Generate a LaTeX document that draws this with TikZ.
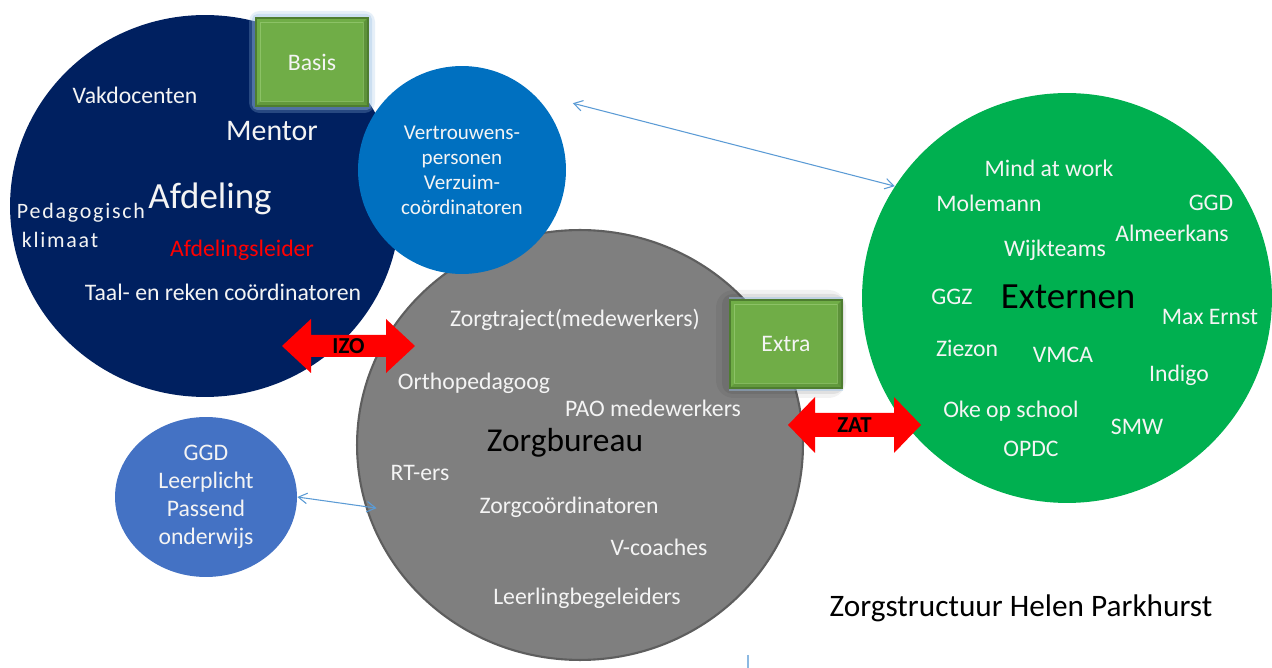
\documentclass[tikz,border=0pt]{standalone}
\usepackage{fontspec}
\setmainfont{Carlito}
\usetikzlibrary{shapes.geometric,arrows.meta,calc}
\definecolor{navy}{HTML}{002060}
\definecolor{vblue}{HTML}{0070C0}
\definecolor{zgray}{HTML}{7F7F7F}
\definecolor{zedge}{HTML}{5E5E5E}
\definecolor{egreen}{HTML}{00B050}
\definecolor{sblue}{HTML}{4472C4}
\definecolor{boxgreen}{HTML}{70AD47}
\definecolor{boxdark}{HTML}{4E7D30}
\definecolor{boxlight}{HTML}{8CC266}
\definecolor{glowblue}{HTML}{9DC3E6}
\definecolor{arrowred}{HTML}{FF0000}
\definecolor{connblue}{HTML}{5B9BD5}
\definecolor{offwhite}{HTML}{F4F4F4}
\begin{document}
\begin{tikzpicture}[x=0.02cm,y=-0.02cm,
  bubble/.style={inner sep=0pt,draw=none},
  wt/.style={text=offwhite,font=\fontsize{13.5}{16}\selectfont,inner sep=0pt},
  vt/.style={text=offwhite,font=\fontsize{12}{14.2}\selectfont,align=center,inner sep=0pt},
  bigblack/.style={text=black,font=\fontsize{21}{25}\selectfont,inner sep=0pt},
  greenbox/.style={fill=boxgreen,draw=boxdark,line width=0.8pt,minimum width=2.24cm,minimum height=1.76cm,inner sep=0pt,text=offwhite,font=\fontsize{13.5}{16}\selectfont},
  arrowlabel/.style={text=black,font=\bfseries\fontsize{13}{16}\selectfont,inner sep=0pt},
  conn/.style={draw=connblue,line width=0.6pt,{Straight Barb[length=5pt,width=6pt]}-{Straight Barb[length=5pt,width=6pt]}}
]
\useasboundingbox (0,0) rectangle (1272,668);
\fill[white] (0,0) rectangle (1272,668);

% big circles
\node[bubble,ellipse,fill=navy,minimum width=7.8cm,minimum height=7.64cm] (afd) at (205,206) {};

% Basis box glow and box
\fill[glowblue,opacity=0.25,rounded corners=6] (249,11) rectangle (375,113);
\fill[glowblue,opacity=0.35,rounded corners=3] (252,14) rectangle (372,110);
\node[greenbox] (basis) at (312,62) {};
\draw[boxlight,line width=0.6pt] ($(basis.north west)+(5,5)$) rectangle ($(basis.south east)+(-5,-5)$);
\fill[boxdark,opacity=0.55] (basis.north east) -- (basis.south east) -- ($(basis.south east)+(-5,-5)$) -- ($(basis.north east)+(-5,5)$) -- cycle;
\fill[boxdark,opacity=0.4] (basis.south west) -- (basis.south east) -- ($(basis.south east)+(-5,-5)$) -- ($(basis.south west)+(5,-5)$) -- cycle;
\node[text=offwhite,font=\fontsize{13.5}{16}\selectfont,inner sep=0pt] (basist) at (basis) {Basis};

\node[bubble,ellipse,fill=zgray,draw=zedge,line width=1.2pt,minimum width=8.92cm,minimum height=8.6cm] (zorg) at (580,445) {};
\node[bubble,circle,fill=vblue,minimum size=4.16cm,vt] (vert) at (462,170) {Vertrouwens-\\personen\\Verzuim-\\coördinatoren};
\node[bubble,ellipse,fill=sblue,minimum width=3.64cm,minimum height=3.2cm,text=offwhite,font=\fontsize{13.5}{16}\selectfont,align=center] (ggd) at (206,497) {GGD\\Leerplicht\\Passend\\onderwijs};
\node[bubble,circle,fill=egreen,minimum size=8.2cm] (ext) at (1067,298) {};

% Extra box with soft shadow
\fill[black,opacity=0.05,rounded corners=10] (716,290) rectangle (846,398);
\fill[black,opacity=0.07,rounded corners=6] (722,294) rectangle (844,394);
\fill[glowblue,opacity=0.45] (729,297) rectangle (843,391);
\node[greenbox] (extra) at (786,344) {};
\draw[boxlight,line width=0.6pt] ($(extra.north west)+(5,5)$) rectangle ($(extra.south east)+(-5,-5)$);
\fill[boxdark,opacity=0.55] (extra.north east) -- (extra.south east) -- ($(extra.south east)+(-5,-5)$) -- ($(extra.north east)+(-5,5)$) -- cycle;
\fill[boxdark,opacity=0.4] (extra.south west) -- (extra.south east) -- ($(extra.south east)+(-5,-5)$) -- ($(extra.south west)+(5,-5)$) -- cycle;
\node[text=offwhite,font=\fontsize{13.5}{16}\selectfont,inner sep=0pt] (extrat) at (extra) {Extra};

% red double arrows
\fill[arrowred] (282,346) -- (311,319) -- (311,335) -- (386,335) -- (386,319) -- (415,346) -- (386,373) -- (386,357) -- (311,357) -- (311,373) -- cycle;
\node[arrowlabel] (izo) at (348.5,346) {IZO};
\fill[arrowred] (788,425) -- (815,397) -- (815,413) -- (894,413) -- (894,397) -- (921,425) -- (894,453) -- (894,437) -- (815,437) -- (815,453) -- cycle;
\node[arrowlabel] (zat) at (854.5,425) {ZAT};

% connectors
\coordinate (vtip) at ($(vert.north east)+(37,7)$);
\draw[conn] (vtip) -- (ext.147);
\draw[conn,shorten >=-6.5pt] (ggd.east) -- (zorg.196);

% Afdeling texts
\node[wt] (vak) at (135,95) {Vakdocenten};
\node[wt,font=\fontsize{17}{20}\selectfont] (mentor) at (272,131) {Mentor};
\node[wt,font=\fontsize{12.5}{15}\selectfont\addfontfeatures{LetterSpace=8}] (ped) at (81,213) {Pedagogisch};
\node[wt,font=\fontsize{12.5}{15}\selectfont\addfontfeatures{LetterSpace=8}] (klim) at (60,240) {klimaat};
\node[wt,font=\fontsize{21}{25}\selectfont] (afdt) at (210,199) {Afdeling};
\node[wt,text=arrowred] (al) at (242,250) {Afdelingsleider};
\node[wt] (taal) at (223,292) {Taal- en reken coördinatoren};

% Zorgbureau texts
\node[wt] (zt) at (575,320) {Zorgtraject(medewerkers)};
\node[wt] (ortho) at (474,383) {Orthopedagoog};
\node[wt] (pao) at (653,408) {PAO medewerkers};
\node[bigblack,font=\fontsize{19}{23}\selectfont] (zb) at (565,443) {Zorgbureau};
\node[wt] (rt) at (420,473) {RT-ers};
\node[wt] (zc) at (569,507) {Zorgcoördinatoren};
\node[wt] (vc) at (659,547) {V-coaches};
\node[wt] (lb) at (587,598) {Leerlingbegeleiders};

% Externen texts
\node[wt] (e1) at (1049,168) {Mind at work};
\node[wt] (e2) at (989,203) {Molemann};
\node[wt] (e3) at (1211,203) {GGD};
\node[wt] (e4) at (1172,233) {Almeerkans};
\node[wt] (e5) at (1055,250) {Wijkteams};
\node[wt] (e6) at (952,297) {GGZ};
\node[bigblack] (extt) at (1068,297) {Externen};
\node[wt] (e7) at (1210,317) {Max Ernst};
\node[wt] (e8) at (967,348) {Ziezon};
\node[wt] (e9) at (1063,355) {VMCA};
\node[wt] (e10) at (1179,375) {Indigo};
\node[wt] (e11) at (1011,411) {Oke op school};
\node[wt] (e12) at (1137,427) {SMW};
\node[wt] (e13) at (1031,449) {OPDC};

% title
\node[text=black,font=\fontsize{17.8}{21}\selectfont,inner sep=0pt] (title) at (1021,608) {Zorgstructuur Helen Parkhurst};

% stray mark
\draw[connblue!70,line width=0.8pt] (748,655) -- (748,668);
\end{tikzpicture}
\end{document}
